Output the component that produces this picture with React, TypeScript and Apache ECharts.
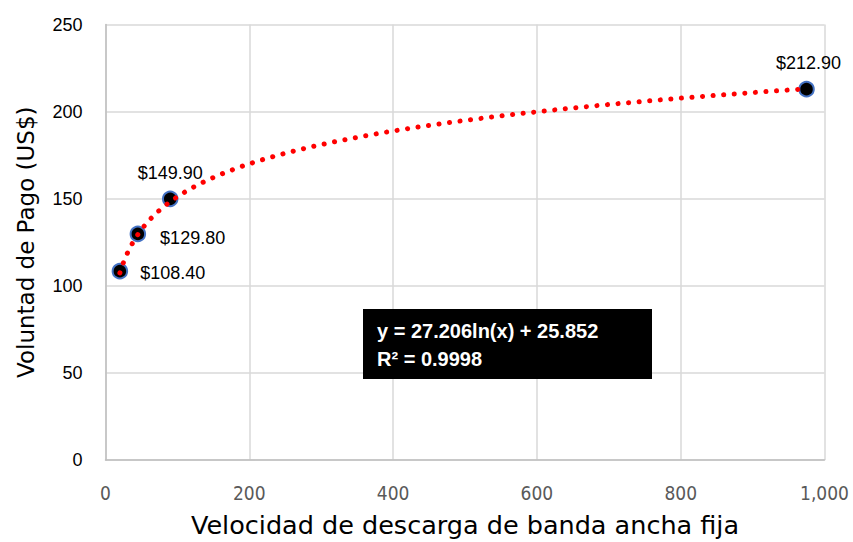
import React, { useEffect, useRef } from "react";
import * as echarts from "echarts";

const SPEED = [20, 45, 90, 975];
const PRICE = [108.4, 129.8, 149.9, 212.9];
const PRICE_LABELS = ["$108.40", "$129.80", "$149.90", "$212.90"];
const TREND_A = 27.206;
const TREND_B = 25.852;
const TREND_R2 = "0.9998";
const X_TICKS = [0, 200, 400, 600, 800, 1000];
const Y_TICKS = [0, 50, 100, 150, 200, 250];
const X_NAME = "Velocidad de descarga de banda ancha fija";
const Y_NAME = "Voluntad de Pago (US$)";

export default function App() {
  const ref = useRef<HTMLDivElement>(null);
  useEffect(() => {
    if (!ref.current) return;
    const chart = echarts.init(ref.current, null, { renderer: "svg" });
    const xMin = SPEED[0];
    const xMax = SPEED[SPEED.length - 1];
    const trend: number[][] = [];
    const steps = 300;
    for (let i = 0; i <= steps; i++) {
      const x = xMin + ((xMax - xMin) * i) / steps;
      trend.push([x, TREND_A * Math.log(x) + TREND_B]);
    }
    const labelCfg = [
      { position: "right", distance: 12, offset: [0, 2] },
      { position: "right", distance: 14, offset: [0, 4] },
      { position: "top", distance: 9, offset: [0, 0] },
      { position: "top", distance: 9, offset: [2, 0] },
    ];
    const scatterData = SPEED.map((x, i) => ({
      value: [x, PRICE[i]],
      label: {
        show: true,
        formatter: PRICE_LABELS[i],
        position: labelCfg[i].position,
        distance: labelCfg[i].distance,
        offset: labelCfg[i].offset,
        color: "#000",
        fontSize: 18,
        fontFamily: "Liberation Sans, Arial, sans-serif",
      },
    }));
    const grid = { left: 105.5, right: 28.5, top: 24.5, bottom: 82, outerBoundsMode: "none", containLabel: false };
    chart.setOption({
      animation: false,
      backgroundColor: "#fff",
      grid,
      xAxis: {
        type: "value",
        min: X_TICKS[0],
        max: X_TICKS[X_TICKS.length - 1],
        interval: X_TICKS[1] - X_TICKS[0],
        name: X_NAME,
        nameLocation: "middle",
        nameGap: 52,
        nameTextStyle: {
          fontSize: 25.5,
          color: "#000",
          fontFamily: "DejaVu Sans, sans-serif",
        },
        axisLine: { show: true, lineStyle: { color: "#BFBFBF", width: 1.5 } },
        axisTick: { show: false },
        axisLabel: {
          margin: 23,
          fontSize: 19,
          color: "#595959",
          fontFamily: "DejaVu Sans Condensed, Liberation Sans Narrow, sans-serif",
          formatter: (v: number) => v.toLocaleString("en-US"),
        },
        splitLine: { show: true, lineStyle: { color: "#D9D9D9", width: 1.5 } },
      },
      yAxis: {
        type: "value",
        min: Y_TICKS[0],
        max: Y_TICKS[Y_TICKS.length - 1],
        interval: Y_TICKS[1] - Y_TICKS[0],
        name: Y_NAME,
        nameLocation: "middle",
        nameGap: 68,
        nameTextStyle: {
          fontSize: 23,
          color: "#000",
          fontFamily: "DejaVu Sans, sans-serif",
        },
        axisLine: { show: true, lineStyle: { color: "#BFBFBF", width: 1.5 } },
        axisTick: { show: false },
        axisLabel: {
          margin: 23,
          fontSize: 18,
          color: "#000",
          fontFamily: "Liberation Sans, Arial, sans-serif",
        },
        splitLine: { show: true, lineStyle: { color: "#D9D9D9", width: 1.5 } },
      },
      series: [
        {
          type: "scatter",
          data: scatterData,
          symbol: "circle",
          symbolSize: 14.5,
          itemStyle: { color: "#000", borderColor: "#4472C4", borderWidth: 2, opacity: 1 },
          z: 2,
        },
        {
          type: "line",
          data: trend,
          showSymbol: false,
          smooth: false,
          lineStyle: { color: "#FF0000", width: 5, type: [0.1, 10.5], cap: "round" },
          z: 3,
          silent: true,
        },
      ],
      graphic: [
        {
          type: "group",
          left: 363,
          top: 309,
          z: 100,
          children: [
            { type: "rect", z: 100, shape: { x: 0, y: 0, width: 289, height: 70 }, style: { fill: "#000" } },
            {
              type: "text",
              z: 101,
              x: 14,
              y: 22,
              style: {
                text: `y = ${TREND_A}ln(x) + ${TREND_B}`,
                fill: "#fff",
                fontSize: 20,
                fontWeight: "bold",
                fontFamily: "Liberation Sans, Arial, sans-serif",
                verticalAlign: "middle",
              },
            },
            {
              type: "text",
              z: 101,
              x: 14,
              y: 50,
              style: {
                text: `R² = ${TREND_R2}`,
                fill: "#fff",
                fontSize: 20,
                fontWeight: "bold",
                fontFamily: "Liberation Sans, Arial, sans-serif",
                verticalAlign: "middle",
              },
            },
          ],
        },
      ],
    });
    return () => chart.dispose();
  }, []);
  return (
    <div
      ref={ref}
      style={{ position: "fixed", left: 0, top: 0, width: 853, height: 542 }}
    />
  );
}
